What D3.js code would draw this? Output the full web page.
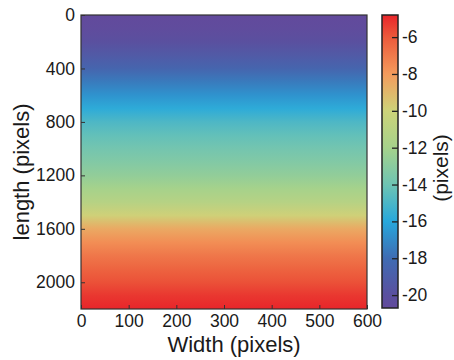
<!DOCTYPE html>
<html>
<head>
<meta charset="utf-8">
<script src="https://cdn.jsdelivr.net/npm/d3@7"></script>
<style>
  html, body { margin: 0; padding: 0; background: #fff; }
  svg text { font-family: "Liberation Sans", Arial, sans-serif; fill: #1a1a1a; }
</style>
</head>
<body>
<svg id="chart" width="454" height="360"></svg>
<script>
// ---- data ----
const rowPositions = [0, 100, 200, 300, 400, 500, 600, 700, 800, 900, 1000, 1100,
                      1200, 1300, 1400, 1500, 1600, 1700, 1800, 1900, 2000, 2100, 2200];
const rowValues = [-20.7, -20.5, -20.0, -19.3, -18.5, -17.5, -16.7, -15.8, -14.9, -14.3, -13.8, -13.3,
                   -12.7, -12.0, -11.2, -9.9, -8.5, -7.6, -6.9, -6.3, -5.8, -5.2, -4.8];
const xTicks = [0, 100, 200, 300, 400, 500, 600];
const yTicks = [0, 400, 800, 1200, 1600, 2000];
const cbTicks = [-6, -8, -10, -12, -14, -16, -18, -20];
const xDomain = [0, 600];
const yDomain = [0, 2200];
const cbDomain = [-20.7, -4.8];
// colour palette (value -> colour) of the colour bar
const paletteValues = [-20.7, -20, -18, -16, -14, -12, -10, -8, -6, -4.8];
const paletteColors = ["#624a9c", "#5a509f", "#3f6cb3", "#27a8dc", "#6ec4b3",
                       "#a6d28b", "#cdd379", "#f39b5c", "#ec5a3b", "#e8252a"];

// ---- layout ----
const plot = { left: 81, right: 367, top: 15, bottom: 309 };
const cb = { left: 382, right: 398, top: 15, bottom: 308 };

const svg = d3.select("#chart");
const defs = svg.append("defs");

const x = d3.scaleLinear().domain(xDomain).range([plot.left, plot.right]);
const y = d3.scaleLinear().domain(yDomain).range([plot.top, plot.bottom]);
const color = d3.scaleLinear().domain(paletteValues).range(paletteColors)
                .interpolate(d3.interpolateRgb).clamp(true);
const cbY = d3.scaleLinear().domain(cbDomain).range([cb.bottom, cb.top]);

// ---- heat map (rows constant along width) ----
const hg = defs.append("linearGradient").attr("id", "heatGrad")
  .attr("gradientUnits", "userSpaceOnUse")
  .attr("x1", 0).attr("x2", 0).attr("y1", y(yDomain[0])).attr("y2", y(yDomain[1]));
hg.selectAll("stop").data(rowPositions).join("stop")
  .attr("offset", d => (y(d) - y(yDomain[0])) / (y(yDomain[1]) - y(yDomain[0])))
  .attr("stop-color", (d, i) => color(rowValues[i]));

svg.append("rect")
  .attr("x", x(xDomain[0])).attr("y", y(yDomain[0]))
  .attr("width", x(xDomain[1]) - x(xDomain[0]))
  .attr("height", y(yDomain[1]) - y(yDomain[0]))
  .attr("fill", "url(#heatGrad)");

// axes (inward ticks)
const xAxis = svg.append("g").attr("transform", `translate(0,${plot.bottom})`)
  .call(d3.axisBottom(x).tickValues(xTicks).tickSize(-4).tickPadding(6).tickFormat(d3.format("d")));
xAxis.select(".domain").remove();
xAxis.selectAll(".tick line").attr("stroke", "#333");
xAxis.selectAll(".tick text").attr("font-size", 17.5);

const yAxis = svg.append("g").attr("transform", `translate(${plot.left},0)`)
  .call(d3.axisLeft(y).tickValues(yTicks).tickSize(-4).tickPadding(6).tickFormat(d3.format("d")));
yAxis.select(".domain").remove();
yAxis.selectAll(".tick line").attr("stroke", "#333");
yAxis.selectAll(".tick text").attr("font-size", 17.5);

svg.append("rect")
  .attr("x", plot.left).attr("y", plot.top)
  .attr("width", plot.right - plot.left).attr("height", plot.bottom - plot.top)
  .attr("fill", "none").attr("stroke", "#333").attr("stroke-width", 1.2);

// axis titles
svg.append("text").attr("x", 234).attr("y", 352).attr("text-anchor", "middle")
  .attr("font-size", 22).text("Width (pixels)");
svg.append("text").attr("transform", "translate(29,172) rotate(-90)")
  .attr("text-anchor", "middle").attr("font-size", 22).text("length (pixels)");

// ---- colour bar ----
const cg = defs.append("linearGradient").attr("id", "cbGrad")
  .attr("gradientUnits", "userSpaceOnUse")
  .attr("x1", 0).attr("x2", 0).attr("y1", cbY(cbDomain[0])).attr("y2", cbY(cbDomain[1]));
cg.selectAll("stop").data(paletteValues).join("stop")
  .attr("offset", d => (d - cbDomain[0]) / (cbDomain[1] - cbDomain[0]))
  .attr("stop-color", d => color(d));

svg.append("rect")
  .attr("x", cb.left).attr("y", cb.top)
  .attr("width", cb.right - cb.left).attr("height", cb.bottom - cb.top)
  .attr("fill", "url(#cbGrad)");

const cbAxis = svg.append("g").attr("transform", `translate(${cb.right},0)`)
  .call(d3.axisRight(cbY).tickValues(cbTicks).tickSize(-6).tickPadding(4).tickFormat(d => d3.format("d")(d).replace("−", "-")));
cbAxis.select(".domain").remove();
cbAxis.selectAll(".tick line").attr("stroke", "#222").attr("stroke-width", 1.3);
cbAxis.selectAll(".tick text").attr("font-size", 17.5);

svg.append("rect")
  .attr("x", cb.left).attr("y", cb.top)
  .attr("width", cb.right - cb.left).attr("height", cb.bottom - cb.top)
  .attr("fill", "none").attr("stroke", "#222").attr("stroke-width", 1.5);

svg.append("text").attr("transform", "translate(448,168) rotate(-90)")
  .attr("text-anchor", "middle").attr("font-size", 21).text("(pixels)");
</script>
</body>
</html>
